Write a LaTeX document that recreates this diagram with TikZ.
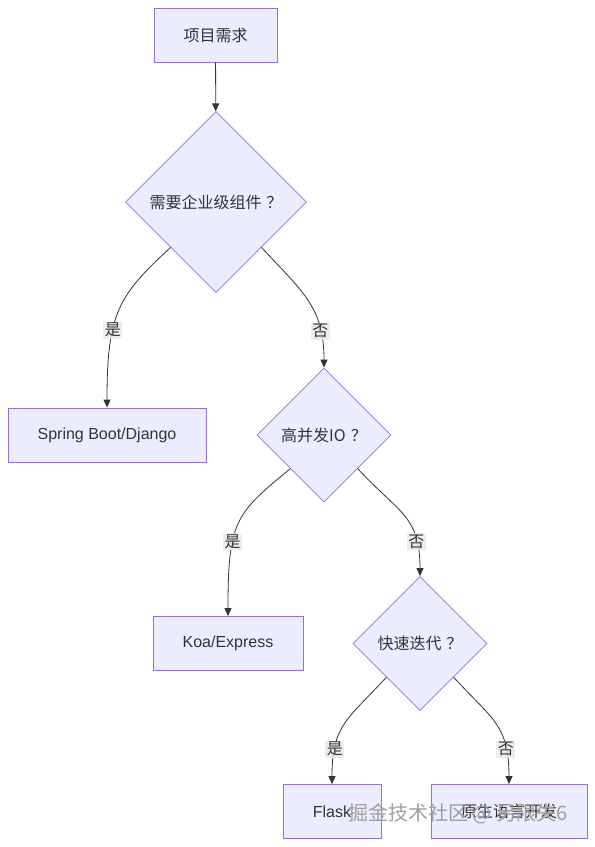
\documentclass[tikz,border=0pt]{standalone}
\usepackage{fontspec}
\setmainfont{Liberation Sans}
\newfontfamily\cjk{Noto Sans CJK SC}
\usetikzlibrary{arrows.meta,shapes.geometric}
\definecolor{nodefill}{HTML}{ECECFF}
\definecolor{nodeline}{HTML}{9370DB}
\definecolor{ink}{HTML}{333333}
\definecolor{tagbg}{HTML}{E8E8E8}
\tikzset{
  box/.style={draw=nodeline, fill=nodefill, line width=0.8pt, minimum height=54pt, inner sep=0pt, text=ink, font=\fontsize{16}{19}\selectfont},
  decision/.style={box, diamond, aspect=1},
  flow/.style={-{Triangle[length=8pt,width=7pt]}, draw=ink, line width=0.8pt},
  edgetag/.style={fill=tagbg, fill opacity=0.8, text opacity=1, inner sep=1.5pt, text=ink, font=\cjk\fontsize{16}{19}\selectfont},
  watermark/.style={text=gray!75, font=\cjk\fontsize{20}{24}\selectfont}
}
\begin{document}
\begin{tikzpicture}[x=1pt,y=-1pt]
\useasboundingbox[fill=white] (0,0) rectangle (595,847);
% nodes
\node[box,minimum width=123pt] (req) at (215.5,35) {\cjk 项目需求};
\node[decision,minimum size=181pt] (enterprise) at (216,202) {\cjk 需要企业级组件\hspace{5pt}？};
\node[box,minimum width=198pt] (spring) at (107,435) {Spring Boot/Django};
\node[decision,minimum size=134pt] (highio) at (324,435) {\cjk 高并发IO\hspace{5pt}？};
\node[box,minimum width=150pt] (koa) at (228,643.5) {Koa/Express};
\node[decision,minimum size=134pt] (fastiter) at (420,643.5) {\cjk 快速迭代\hspace{5pt}？};
\node[box,minimum width=98pt] (flask) at (332,811.5) {Flask};
\node[box,minimum width=156pt] (native) at (509,811.5) {\cjk 原生语言开发};
% connectors
\draw[flow] (req) -- (enterprise);
\draw[flow] (enterprise.south west) .. controls +(-52,48) and +(0,-95) .. node[edgetag,pos=0.64] {是} (spring.north);
\draw[flow] (enterprise.south east) .. controls +(42,45) and +(0,-60) .. node[edgetag,pos=0.76] {否} (highio.north);
\draw[flow] (highio.south west) .. controls +(-55,45) and +(0,-95) .. node[edgetag,pos=0.64] {是} (koa.north);
\draw[flow] (highio.south east) .. controls +(42,45) and +(0,-60) .. node[edgetag,pos=0.76] {否} (fastiter.north);
\draw[flow] (fastiter.south west) .. controls +(-38,42) and +(0,-60) .. node[edgetag,pos=0.76] {是} (flask.north);
\draw[flow] (fastiter.south east) .. controls +(38,42) and +(0,-60) .. node[edgetag,pos=0.76] {否} (native.north);
\node[watermark] (mark) at (458,814) {掘金技术社区 @ 另限失6};
\end{tikzpicture}
\end{document}
